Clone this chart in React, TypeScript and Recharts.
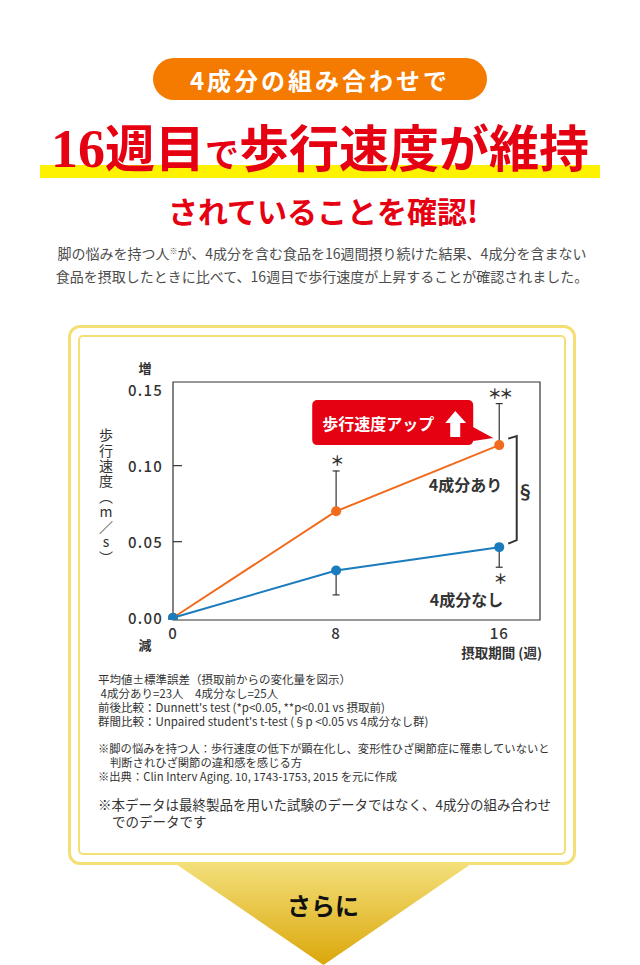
import React from 'react';
import {
  ErrorBar,
  Line,
  LineChart,
  ReferenceArea,
  ReferenceDot,
  ReferenceLine,
  XAxis,
  YAxis,
} from 'recharts';

// ============================================
// Walking speed change (m/s) over 16 weeks, with vs without the 4 ingredients.
// Values.
// ============================================

const weeks = [0, 8, 16];
const withFour = [0, 0.07, 0.1135];
const withFourUpper = [0, 0.0265, 0.0273];   // SE bars drawn upward only
const withoutFour = [0, 0.031, 0.0464];
const withoutFourLower = [0, 0.016, 0.0132]; // SE bars drawn downward only
const withFourMarks = ['', '＊', '＊＊'];
const withoutFourMarks = ['', '', '＊'];
const yTicks = [0, 0.05, 0.1, 0.15];
const xTicks = [0, 8, 16];
const yDomain = [-0.0015, 0.155];
const xDomain = [0, 18];

const data = weeks.map((w, i) => ({
  week: w,
  ari: withFour[i],
  ariErr: [0, withFourUpper[i]],
  nashi: withoutFour[i],
  nashiErr: [withoutFourLower[i], 0],
}));

const ORANGE = '#f26b1d';
const BLUE = '#1a7bbd';
const RED = '#e50012';
const INK = '#333';
const GOLD = '#f4df76';
const FONT = '"Noto Sans CJK JP", "Noto Sans", sans-serif';

// ───────────────────────────────────────────
// chart pieces
// ───────────────────────────────────────────

function YTick({ x, y, payload }: any) {
  const v = Number(payload.value);
  // the frame already covers the ends, only inner ticks get a mark
  const inner = v > yTicks[0] && v < yTicks[yTicks.length - 1];
  return (
    <g>
      {inner && <line x1={x + 10} x2={x + 19} y1={y} y2={y} stroke={INK} strokeWidth={1.2} />}
      <text x={x} y={y} textAnchor="end" dominantBaseline="central" fontSize={15} fontWeight={500} fill={INK} fontFamily={FONT} letterSpacing={1.2}>
        {v.toFixed(2)}
      </text>
    </g>
  );
}

function Callout({ cx, cy }: any) {
  return (
    <g>
      <rect x={cx - 187} y={cy - 45} width={161} height={45} rx={5} fill={RED} />
      <polygon points={`${cx - 30},${cy - 20} ${cx - 6},${cy - 7} ${cx - 26},${cy - 4}`} fill={RED} />
      <text x={cx - 177} y={cy - 22.5} dominantBaseline="central" fontSize={16} fontWeight={700} fill="#fff" fontFamily={FONT}>
        歩行速度アップ
      </text>
      <path
        d={`M${cx - 44},${cy - 34} L${cx - 54},${cy - 22} L${cx - 49},${cy - 22} L${cx - 49},${cy - 8} L${cx - 39},${cy - 8} L${cx - 39},${cy - 22} L${cx - 33},${cy - 22} Z`}
        fill="#fff"
      />
    </g>
  );
}

const seriesTag = (label: string, dx: number, dy: number) => ({ cx, cy }: any) => (
  <text x={cx + dx} y={cy + dy} textAnchor="end" dominantBaseline="central" fontSize={16} fontWeight={700} fill={INK} fontFamily={FONT}>
    {label}
  </text>
);

const starMark = (mark: string, dy: number) => ({ cx, cy }: any) => (
  <text x={cx} y={cy + dy} textAnchor="middle" dominantBaseline="central" fontSize={14} fontWeight={700} fill={INK} fontFamily={FONT} letterSpacing={-2.5}>
    {mark}
  </text>
);

function Bracket({ x1, y1, y2 }: any) {
  return (
    <g>
      <path
        d={`M${x1 + 9},${y1 - 6.5} L${x1 + 17.5},${y1 - 9} L${x1 + 17.5},${y2 - 7} L${x1 + 9},${y2 - 3.5}`}
        fill="none"
        stroke={INK}
        strokeWidth={2}
      />
      <text x={x1 + 26} y={(y1 + y2) / 2 - 5} textAnchor="middle" dominantBaseline="central" fontSize={18} fontWeight={700} fill={INK} fontFamily={FONT}>
        §
      </text>
    </g>
  );
}

function WalkingSpeedChart() {
  return (
    <LineChart width={640} height={330} data={data} margin={{ top: 42, right: 100, bottom: 20, left: 113 }}>
      <XAxis
        dataKey="week"
        type="number"
        domain={xDomain}
        ticks={xTicks}
        axisLine={false}
        tickLine={false}
        tickSize={0}
        tickMargin={8}
        height={30}
        tick={{ fontSize: 15, fontWeight: 500, fill: INK, fontFamily: FONT, letterSpacing: 1 }}
      />
      <YAxis
        type="number"
        domain={yDomain}
        ticks={yTicks}
        axisLine={false}
        tickLine={false}
        tickSize={0}
        tickMargin={10}
        width={60}
        tick={<YTick />}
        allowDataOverflow
      />
      {/* plot frame */}
      <ReferenceArea x1={xDomain[0]} x2={xDomain[1]} y1={yDomain[0]} y2={yDomain[1]} fill="none" stroke={INK} strokeWidth={1.2} strokeOpacity={1} />
      <Line
        type="linear"
        dataKey="ari"
        stroke={ORANGE}
        strokeWidth={2}
        dot={{ r: 5, fill: ORANGE, stroke: 'none' }}
        isAnimationActive={false}
      >
        <ErrorBar dataKey="ariErr" direction="y" width={3.5} stroke={INK} strokeWidth={1.2} />
      </Line>
      <Line
        type="linear"
        dataKey="nashi"
        stroke={BLUE}
        strokeWidth={2}
        dot={{ r: 5, fill: BLUE, stroke: 'none' }}
        isAnimationActive={false}
      >
        <ErrorBar dataKey="nashiErr" direction="y" width={3.5} stroke={INK} strokeWidth={1.2} />
      </Line>
      {weeks.map((w, i) =>
        withFourMarks[i] ? (
          <ReferenceDot key={'a' + i} x={w} y={withFour[i] + withFourUpper[i]} r={0} shape={starMark(withFourMarks[i], -11)} />
        ) : null,
      )}
      {weeks.map((w, i) =>
        withoutFourMarks[i] ? (
          <ReferenceDot key={'n' + i} x={w} y={withoutFour[i] - withoutFourLower[i]} r={0} shape={starMark(withoutFourMarks[i], 11)} />
        ) : null,
      )}
      <ReferenceLine
        segment={[
          { x: weeks[2], y: withFour[2] },
          { x: weeks[2], y: withoutFour[2] },
        ]}
        shape={<Bracket />}
      />
      <ReferenceDot x={weeks[2]} y={withFour[2]} r={0} shape={seriesTag('4成分あり', 3, 38.6)} />
      <ReferenceDot x={weeks[2]} y={withoutFour[2]} r={0} shape={seriesTag('4成分なし', 4, 52)} />
      <ReferenceDot x={weeks[2]} y={withFour[2]} r={0} shape={<Callout />} />
    </LineChart>
  );
}

// ───────────────────────────────────────────
// page
// ───────────────────────────────────────────

const abs = (s: React.CSSProperties): React.CSSProperties => ({ position: 'absolute', whiteSpace: 'nowrap', ...s });

export default function App() {
  return (
    <div style={{ position: 'absolute', left: 0, top: 0, width: 640, height: 965, background: '#fff', overflow: 'hidden', fontFamily: FONT, color: INK }}>
      {/* header pill */}
      <div style={abs({ left: 153, top: 58, width: 334, height: 42, borderRadius: 21, background: '#f47a00', color: '#fff', fontSize: 24, fontWeight: 700, letterSpacing: 3, lineHeight: '44px', textAlign: 'center' })}>
        4成分の組み合わせで
      </div>

      {/* title with marker band */}
      <div style={abs({ left: 40, top: 165, width: 560, height: 13, background: '#fff200' })} />
      <div style={abs({ left: 0, top: 115, width: 640, textAlign: 'center', color: RED, fontSize: 50, fontWeight: 700, lineHeight: '60px' })}>
        <span style={{ fontFamily: '"Liberation Serif", serif', fontSize: 54 }}>16</span>週目<span style={{ fontSize: 34 }}>で</span>歩行速度が維持
      </div>
      <div style={abs({ left: 0, top: 190, width: 646, textAlign: 'center', color: RED, fontSize: 30, fontWeight: 700, lineHeight: '40px' })}>
        されていることを確認!
      </div>
      <div style={abs({ left: 0, top: 241.5, width: 644, textAlign: 'center', color: '#4d4d4d', fontSize: 14, lineHeight: '23px' })}>
        脚の悩みを持つ人<sup style={{ fontSize: 8, verticalAlign: '5px', lineHeight: 0 }}>※</sup>が、4成分を含む食品を16週間摂り続けた結果、4成分を含まない
        <br />
        食品を摂取したときに比べて、16週目で歩行速度が上昇することが確認されました。
      </div>

      {/* down arrow */}
      <svg width={640} height={965} style={{ position: 'absolute', left: 0, top: 0 }}>
        <defs>
          <linearGradient id="arrowGrad" x1="0" y1="0" x2="0" y2="1">
            <stop offset="0%" stopColor="#f3e07c" />
            <stop offset="100%" stopColor="#dba70a" />
          </linearGradient>
        </defs>
        <polygon points="173,862 474,862 323.5,965" fill="url(#arrowGrad)" />
      </svg>
      <div style={abs({ left: 273, top: 890, width: 100, textAlign: 'center', fontSize: 24, fontWeight: 700, color: '#111', lineHeight: '30px' })}>
        さらに
      </div>

      {/* double framed box */}
      <div style={abs({ left: 68, top: 325, width: 502, height: 534, border: `3px solid ${GOLD}`, borderRadius: 12, background: '#fff' })} />
      <div style={abs({ left: 78, top: 335, width: 484, height: 516, border: `2px solid ${GOLD}`, borderRadius: 5 })} />

      {/* chart */}
      <div style={abs({ left: 0, top: 340, width: 640, height: 330 })}>
        <WalkingSpeedChart />
      </div>
      <div style={abs({ left: 134, top: 359, width: 22, textAlign: 'center', fontSize: 13, fontWeight: 700, lineHeight: '18px' })}>増</div>
      <div style={abs({ left: 134, top: 636, width: 22, textAlign: 'center', fontSize: 13, fontWeight: 700, lineHeight: '18px' })}>減</div>
      <div style={abs({ left: 96, top: 428, width: 20, writingMode: 'vertical-rl', textOrientation: 'upright', fontSize: 14, letterSpacing: 1.3, lineHeight: '20px' })}>
        歩行速度（m／s）
      </div>
      <div style={abs({ left: 400, top: 642, width: 142, textAlign: 'right', fontSize: 13.5, fontWeight: 700, lineHeight: '20px' })}>
        摂取期間 (週)
      </div>

      {/* notes */}
      <div style={abs({ left: 98, top: 672, fontSize: 11.5, lineHeight: '14px', color: INK })}>
        平均値±標準誤差（摂取前からの変化量を図示）
        <br />
        &nbsp;4成分あり=23人　4成分なし=25人
        <br />
        前後比較：Dunnett's test (*p&lt;0.05, **p&lt;0.01 vs 摂取前)
        <br />
        群間比較：Unpaired student's t-test (§p &lt;0.05 vs 4成分なし群)
      </div>
      <div style={abs({ left: 98, top: 741, fontSize: 11.3, lineHeight: '14px', color: INK })}>
        ※脚の悩みを持つ人：歩行速度の低下が顕在化し、変形性ひざ関節症に罹患していないと
        <br />
        <span style={{ paddingLeft: 12 }}>判断されひざ関節の違和感を感じる方</span>
        <br />
        ※出典：Clin Interv Aging. 10, 1743-1753, 2015 を元に作成
      </div>
      <div style={abs({ left: 98, top: 796, fontSize: 13.5, lineHeight: '17px', color: INK })}>
        ※本データは最終製品を用いた試験のデータではなく、4成分の組み合わせ
        <br />
        <span style={{ paddingLeft: 14 }}>でのデータです</span>
      </div>
    </div>
  );
}
